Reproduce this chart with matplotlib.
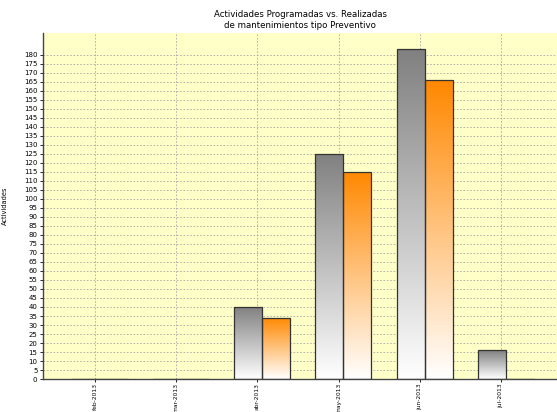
import matplotlib
matplotlib.use("Agg")
import matplotlib.pyplot as plt
import numpy as np
from matplotlib.colors import LinearSegmentedColormap

meses = ["feb-2013", "mar-2013", "abr-2013", "may-2013", "jun-2013", "jul-2013"]
programadas = [0, 0, 40, 125, 183, 16]
realizadas = [0, 0, 34, 115, 166, 0]

plt.rcParams['font.family'] = ['DejaVu Sans']

fig = plt.figure(figsize=(5.57, 4.12), dpi=100)
ax = fig.add_axes([0.0772, 0.08, 0.9228, 0.84])
ax.set_facecolor("#ffffc8")

x = np.arange(len(meses))
ancho = 0.345

gris = LinearSegmentedColormap.from_list("gris", ["#ffffff", "#808080"])
naranja = LinearSegmentedColormap.from_list("naranja", ["#ffffff", "#ff8800"])
degradado = np.linspace(0, 1, 256).reshape(-1, 1)

def barras_degradado(pos, valores, cmap):
    barras = ax.bar(pos, valores, ancho, facecolor="none", edgecolor="#333333",
                    linewidth=0.9, zorder=3)
    for b in barras:
        x0, y0 = b.get_x(), b.get_y()
        w, h = b.get_width(), b.get_height()
        if h <= 0:
            continue
        img = ax.imshow(degradado, cmap=cmap, origin="lower", aspect="auto",
                        extent=(x0, x0 + w, y0, y0 + h), zorder=2,
                        interpolation="bilinear")
        img.set_clip_path(b)
    return barras

barras_degradado(x - ancho / 2, programadas, gris)
barras_degradado(x + ancho / 2, realizadas, naranja)

ax.set_xlim(-0.70, len(meses) - 1 + 0.63)
ax.set_ylim(0, max(programadas) * 1.05)

ax.set_yticks(np.arange(0, 185, 5))
ax.set_xticks(x - 0.06)
ax.set_xticklabels(meses, rotation=90, fontsize=4.3)
ax.tick_params(axis="y", labelsize=5.0, length=2, width=0.6, pad=2)
ax.tick_params(axis="x", length=2, width=0.6, pad=1)

ax.grid(True, color="#a8a8a8", linestyle=(0, (2, 2)), linewidth=0.6, zorder=0)
ax.set_axisbelow(True)

for lado in ["top", "right"]:
    ax.spines[lado].set_visible(False)
ax.spines["left"].set_color("#444444")
ax.spines["bottom"].set_color("#444444")
ax.spines["left"].set_linewidth(1.0)
ax.spines["bottom"].set_linewidth(1.0)

ax.set_ylabel("Actividades", fontsize=4.8, labelpad=2)
ax.yaxis.set_label_coords(-0.068, 0.5)
fig.text(0.539, 0.975, "Actividades Programadas vs. Realizadas\nde mantenimientos tipo Preventivo",
         ha="center", va="top", fontsize=6.2, linespacing=1.3)

fig.savefig("out.png", dpi=100)
